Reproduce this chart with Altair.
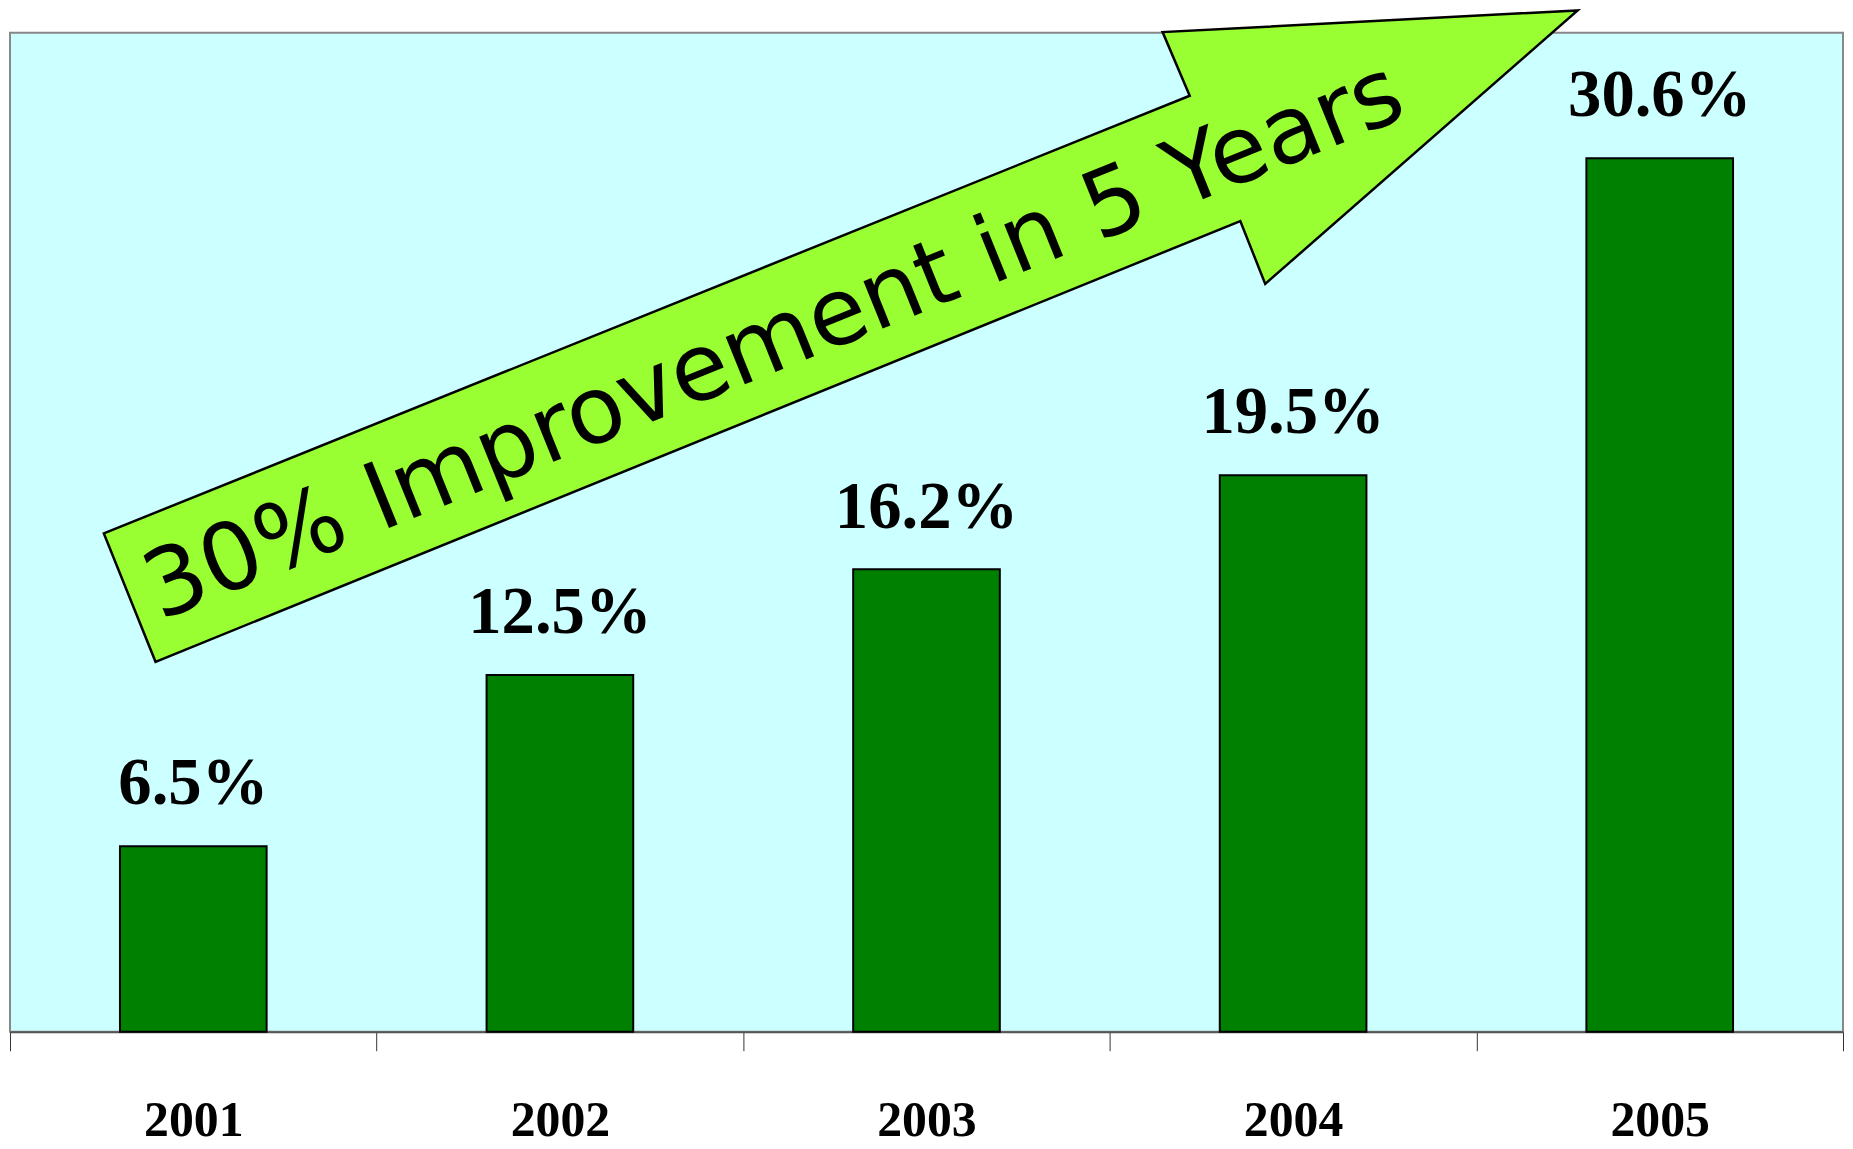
import altair as alt
import pandas as pd

# ---- data ----
years = ["2001", "2002", "2003", "2004", "2005"]
values = [6.5, 12.5, 16.2, 19.5, 30.6]
value_labels = ["6.5%", "12.5%", "16.2%", "19.5%", "30.6%"]
grid_values = [5, 10, 15, 20, 25, 30]

# arrow annotation outline, in data units (x: category slots 0..5, y: percent)
arrow_x = [0.256, 3.218, 3.144, 4.276, 3.424, 3.356, 0.397]
arrow_y = [17.46, 32.79, 35.02, 35.78, 26.20, 28.40, 12.96]
arrow_text = ["30% Improvement in 5 Years"]
arrow_text_x = [2.085]
arrow_text_y = [24.15]

df = pd.DataFrame({"year": years, "value": values, "label": value_labels})
arrow_df = pd.DataFrame({"x": arrow_x, "y": arrow_y, "order": list(range(len(arrow_x)))})
arrow_text_df = pd.DataFrame({"x": arrow_text_x, "y": arrow_text_y, "text": arrow_text})

W, H = 1842, 1004

y_scale = alt.Scale(domain=[0, 35], nice=False, zero=True)
x_band = alt.Scale(paddingInner=0, paddingOuter=0)

x_enc = alt.X(
    "year:N",
    scale=x_band,
    sort=years,
    axis=alt.Axis(
        title=None,
        labelAngle=0,
        tickBand="extent",
        tickSize=19,
        tickColor="#333333",
        tickWidth=1,
        domainColor="#555555",
        domainWidth=2,
        labelFont="Liberation Serif",
        labelFontWeight="bold",
        labelFontSize=50,
        labelColor="black",
        labelPadding=45,
        grid=False,
    ),
)

y_enc = alt.Y(
    "value:Q",
    scale=y_scale,
    axis=alt.Axis(
        title=None,
        values=grid_values,
        grid=True,
        gridColor="#333333",
        gridWidth=1.2,
        labels=False,
        ticks=False,
        domain=False,
    ),
)

bars = alt.Chart(df).mark_bar(
    color="#008000",
    stroke="black",
    strokeWidth=2,
    width=alt.RelativeBandSize(0.4),
).encode(x=x_enc, y=y_enc)

labels = alt.Chart(df).mark_text(
    font="Liberation Serif",
    fontWeight="bold",
    fontSize=67,
    color="black",
    baseline="alphabetic",
    align="center",
    dy=-42,
).encode(
    x=alt.X("year:N", sort=years),
    y=alt.Y("value:Q"),
    text="label:N",
)

ax = alt.Scale(domain=[0, 5], nice=False, zero=False)

arrow = alt.Chart(arrow_df).mark_line(
    fill="#99FF33",
    stroke="black",
    strokeWidth=2.5,
    interpolate="linear-closed",
    strokeJoin="miter",
).encode(
    x=alt.X("x:Q", scale=ax, axis=None),
    y=alt.Y("y:Q", scale=y_scale, axis=None),
    order="order:Q",
)

arrow_label = alt.Chart(arrow_text_df).mark_text(
    font="DejaVu Sans",
    fontSize=94,
    color="black",
    angle=338,
    align="center",
    baseline="middle",
).encode(
    x=alt.X("x:Q", scale=ax, axis=None),
    y=alt.Y("y:Q", scale=y_scale, axis=None),
    text="text:N",
)

chart = (
    alt.layer(alt.layer(bars, labels), alt.layer(arrow, arrow_label))
    .resolve_scale(x="independent")
    .properties(
        width=W,
        height=H,
        autosize=alt.AutoSizeParams(type="none"),
        padding={"left": 2, "top": 22, "right": 2, "bottom": 117},
        background="white",
    )
    .configure_view(fill="#CCFFFF", stroke="#888888", strokeWidth=2)
)

chart.save("out.html", embed_options={"renderer": "svg", "actions": False})
